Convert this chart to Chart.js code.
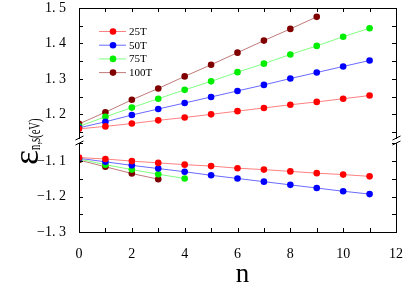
<!DOCTYPE html>
<html>
<head>
<meta charset="utf-8">
<script src="https://cdn.jsdelivr.net/npm/chart.js@4.4.1/dist/chart.umd.min.js"></script>
<style>
  html, body { margin: 0; padding: 0; background: #fff; }
  #wrap { width: 409px; height: 289px; }
</style>
</head>
<body>
<div id="wrap"><canvas id="chart"></canvas></div>
<script>
// values
const nValues = [0, 1, 2, 3, 4, 5, 6, 7, 8, 9, 10, 11];
const fieldLabels = ['25T', '50T', '75T', '100T'];

const upper25T  = [1.159, 1.166, 1.174, 1.183, 1.191, 1.200, 1.209, 1.218, 1.227, 1.235, 1.244, 1.253];
const upper50T  = [1.162, 1.179, 1.198, 1.215, 1.232, 1.249, 1.266, 1.283, 1.301, 1.318, 1.335, 1.352];
const upper75T  = [1.166, 1.193, 1.219, 1.244, 1.269, 1.293, 1.319, 1.343, 1.369, 1.393, 1.419, 1.443];
const upper100T = [1.173, 1.206, 1.241, 1.273, 1.307, 1.340, 1.374, 1.408, 1.441, 1.475];

const lower25T  = [-1.090, -1.094, -1.100, -1.105, -1.110, -1.114, -1.120, -1.124, -1.129, -1.134, -1.138, -1.143];
const lower50T  = [-1.092, -1.102, -1.112, -1.121, -1.130, -1.140, -1.149, -1.158, -1.167, -1.176, -1.185, -1.193];
const lower75T  = [-1.094, -1.110, -1.124, -1.137, -1.149];
const lower100T = [-1.097, -1.116, -1.135, -1.151];

const xTicks = [0, 1, 2, 3, 4, 5, 6, 7, 8, 9, 10, 11, 12];
const upperTicks = [1.15, 1.2, 1.25, 1.3, 1.35, 1.4, 1.45, 1.5];
const lowerTicks = [-1.3, -1.25, -1.2, -1.15, -1.1, -1.05];

const pointColors = ['#ff0000', '#0000ff', '#00ee00', '#800000'];
const lineColors = ['#ff8080', '#6a6aff', '#80ff80', '#c07a7a'];

const serif = "'Liberation Serif', 'Times New Roman', serif";

const toPoints = (arr) => arr.map((v, i) => ({ x: nValues[i], y: v }));

const makeSet = (label, values, i, axis, inLegend) => ({
    label: label,
    data: toPoints(values),
    yAxisID: axis,
    borderColor: lineColors[i],
    backgroundColor: pointColors[i],
    pointBackgroundColor: pointColors[i],
    pointBorderWidth: 0,
    pointRadius: 3.3,
    borderWidth: 1,
    tension: 0,
    inLegend: inLegend
});

const upperSets = [upper25T, upper50T, upper75T, upper100T];
const lowerSets = [lower25T, lower50T, lower75T, lower100T];

const datasets = [];
upperSets.forEach((v, i) => datasets.push(makeSet(fieldLabels[i], v, i, 'yHigh', true)));
lowerSets.forEach((v, i) => datasets.push(makeSet(fieldLabels[i], v, i, 'yLow', false)));

const isMajor = (v) => Math.abs(v * 10 - Math.round(v * 10)) < 1e-6;
const yLabel = (v) => isMajor(v) ? v.toFixed(1).replace('-', '\u2212').replace('.', '. ') : '';

const yFixWidth = (s) => {
    s.width = 79;
    s.paddingTop = 0;
    s.paddingBottom = 0;
};

const framePlugin = {
    id: 'frame',
    afterDraw: (chart) => {
        const ctx = chart.ctx;
        const a = chart.chartArea;
        const xs = chart.scales.x;
        const yH = chart.scales.yHigh;
        const yL = chart.scales.yLow;
        ctx.save();
        ctx.strokeStyle = '#000';
        ctx.lineWidth = 1;
        ctx.strokeRect(Math.round(a.left) + 0.5, Math.round(a.top) + 0.5,
            Math.round(a.right - a.left), Math.round(a.bottom - a.top));

        // inward ticks
        ctx.beginPath();
        xTicks.forEach(v => {
            const px = Math.round(xs.getPixelForValue(v)) + 0.5;
            ctx.moveTo(px, a.bottom); ctx.lineTo(px, a.bottom - 4);
            ctx.moveTo(px, a.top); ctx.lineTo(px, a.top + 4);
        });
        const yTick = (sc, v) => {
            const py = Math.round(sc.getPixelForValue(v)) + 0.5;
            ctx.moveTo(a.left, py); ctx.lineTo(a.left + 4, py);
            ctx.moveTo(a.right, py); ctx.lineTo(a.right - 4, py);
        };
        upperTicks.forEach(v => yTick(yH, v));
        lowerTicks.forEach(v => yTick(yL, v));
        ctx.stroke();

        // axis break marks
        const yb = Math.round(yH.bottom);
        [Math.round(a.left) + 0.5, Math.round(a.right) + 0.5].forEach(x0 => {
            ctx.fillStyle = '#fff';
            ctx.fillRect(x0 - 2, yb - 2, 4, 4);
            ctx.beginPath();
            ctx.moveTo(x0 - 4, yb - 1); ctx.lineTo(x0 + 4, yb - 5);
            ctx.moveTo(x0 - 4, yb + 4); ctx.lineTo(x0 + 4, yb);
            ctx.stroke();
        });

        // legend
        ctx.font = '11px ' + serif;
        ctx.textBaseline = 'middle';
        ctx.textAlign = 'left';
        chart.data.datasets.filter(d => d.inLegend).forEach((d, i) => {
            const ly = 31.5 + i * 13.7;
            ctx.strokeStyle = d.borderColor;
            ctx.beginPath();
            ctx.moveTo(99, ly); ctx.lineTo(126, ly);
            ctx.stroke();
            ctx.fillStyle = d.pointBackgroundColor;
            ctx.beginPath();
            ctx.arc(113, ly, 3.3, 0, Math.PI * 2);
            ctx.fill();
            ctx.fillStyle = '#000';
            ctx.fillText(d.label, 129, ly + 0.5);
        });

        // axis titles
        ctx.fillStyle = '#000';
        ctx.textBaseline = 'alphabetic';
        ctx.textAlign = 'center';
        ctx.font = '27px ' + serif;
        ctx.fillText('n', 242.5, 282);

        ctx.translate(38, 165);
        ctx.rotate(-Math.PI / 2);
        ctx.textAlign = 'left';
        ctx.font = '36px ' + serif;
        ctx.fillText('\u03b5', 0, 0);
        const w = ctx.measureText('\u03b5').width;
        ctx.translate(w, 2);
        ctx.scale(0.62, 1);
        ctx.font = '17px ' + serif;
        ctx.fillText('n,s(eV)', 0, 0);
        ctx.restore();
    }
};

new Chart(document.getElementById('chart'), {
    type: 'line',
    data: { datasets: datasets },
    options: {
        responsive: true,
        maintainAspectRatio: false,
        animation: false,
        devicePixelRatio: 1,
        layout: { padding: { top: 8, right: 9, left: 0, bottom: 0 } },
        plugins: {
            legend: { display: false },
            tooltip: { enabled: false }
        },
        scales: {
            x: {
                type: 'linear',
                min: 0,
                max: 12,
                afterBuildTicks: (s) => { s.ticks = xTicks.map(v => ({ value: v })); },
                afterFit: (s) => { s.height = 57; },
                grid: { display: false },
                border: { display: false },
                ticks: {
                    autoSkip: false,
                    maxRotation: 0,
                    padding: 6,
                    color: '#000',
                    font: { family: serif, size: 14 },
                    callback: (v) => v % 2 === 0 ? String(v) : ''
                }
            },
            yLow: {
                type: 'linear',
                position: 'left',
                stack: 'ybreak',
                stackWeight: 0.256,
                min: -1.3,
                max: -1.044,
                afterBuildTicks: (s) => { s.ticks = lowerTicks.map(v => ({ value: v })); },
                afterFit: yFixWidth,
                grid: { display: false },
                border: { display: false },
                ticks: {
                    autoSkip: false,
                    padding: 5,
                    color: '#000',
                    font: { family: serif, size: 14 },
                    callback: yLabel
                }
            },
            yHigh: {
                type: 'linear',
                position: 'left',
                stack: 'ybreak',
                stackWeight: 0.376,
                min: 1.124,
                max: 1.5,
                afterBuildTicks: (s) => { s.ticks = upperTicks.map(v => ({ value: v })); },
                afterFit: yFixWidth,
                grid: { display: false },
                border: { display: false },
                ticks: {
                    autoSkip: false,
                    padding: 5,
                    color: '#000',
                    font: { family: serif, size: 14 },
                    callback: yLabel
                }
            }
        }
    },
    plugins: [framePlugin]
});
</script>
</body>
</html>
